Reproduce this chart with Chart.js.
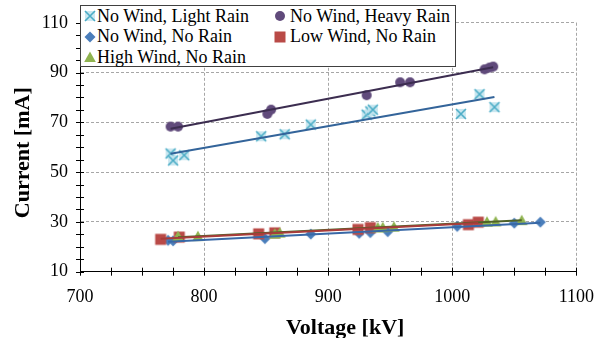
<!DOCTYPE html>
<html>
<head>
<meta charset="utf-8">
<script src="https://cdn.jsdelivr.net/npm/chart.js@4/dist/chart.umd.min.js"></script>
<style>
html,body{margin:0;padding:0;background:#fff;}
#wrap{position:relative;width:609px;height:338px;overflow:hidden;}
#c{position:absolute;left:0;top:0;}
#legend{position:absolute;left:80px;top:5px;width:374px;height:60px;border:1px solid #404040;background:#fff;
  font-family:'Liberation Serif','Times New Roman',serif;font-size:18px;color:#000;}
#legend span{position:absolute;white-space:nowrap;line-height:20px;height:20px;}
#legend canvas{position:absolute;}
</style>
</head>
<body>
<div id="wrap">
  <canvas id="c" width="609" height="338"></canvas>
  <div id="legend"></div>
</div>
<script>
// ---------- data ----------
const seriesLabels = ['No Wind, Light Rain', 'No Wind, Heavy Rain', 'No Wind, No Rain', 'Low Wind, No Rain', 'High Wind, No Rain'];

const lightRainVoltage = [773, 775, 784, 846, 865, 886, 931, 934, 936, 1007, 1022, 1034];
const lightRainCurrent = [57.5, 54.7, 56.8, 64.4, 65.2, 69.1, 73.1, 74.4, 75.1, 73.4, 81.3, 76.1];

const heavyRainVoltage = [773, 779, 851, 854, 931, 958, 966, 1026, 1030, 1033];
const heavyRainCurrent = [68.3, 68.3, 73.4, 75.1, 80.9, 86.1, 86.1, 91.3, 92.0, 92.4];

const noRainVoltage = [771, 775, 849, 886, 925, 934, 948, 1004, 1050, 1071];
const noRainCurrent = [22.6, 22.4, 23.3, 25.1, 25.4, 25.7, 26.1, 28.2, 29.5, 29.9];

const lowWindVoltage = [765, 780, 844, 857, 924, 934, 1013, 1021];
const lowWindCurrent = [23.0, 23.9, 25.2, 25.6, 27.0, 27.7, 28.9, 29.9];

const highWindVoltage = [779, 795, 857, 861, 940, 944, 953, 1028, 1035, 1056];
const highWindCurrent = [24.3, 24.3, 25.3, 25.7, 27.8, 27.9, 28.1, 30.1, 30.2, 30.7];

const xTickValues = [700, 800, 900, 1000, 1100];
const yTickValues = [10, 30, 50, 70, 90, 110];
const xAxisTitle = 'Voltage [kV]';
const yAxisTitle = 'Current [mA]';

// ---------- styling ----------
const FONT = "'Liberation Serif', 'Times New Roman', serif";
const markerKinds = ['x', 'circle', 'diamond', 'square', 'triangle'];
const trendColors = ['#33649a', '#3c2d50', '#3868a6', '#a83c3a', '#4f6228'];

function makeMarker(kind) {
  const c = document.createElement('canvas');
  c.width = 14; c.height = 14;
  const g = c.getContext('2d');
  switch (kind) {
    case 'x':
      g.fillStyle = 'rgba(196,228,238,0.9)';
      g.fillRect(2, 2, 10, 10);
      g.strokeStyle = '#4bacc6'; g.lineWidth = 1.6;
      g.beginPath(); g.moveTo(2, 2); g.lineTo(12, 12); g.moveTo(12, 2); g.lineTo(2, 12); g.stroke();
      break;
    case 'circle':
      g.fillStyle = '#604a7b';
      g.beginPath(); g.arc(7, 7, 5, 0, Math.PI * 2); g.fill();
      break;
    case 'diamond':
      g.fillStyle = '#4a7ebb';
      g.beginPath(); g.moveTo(7, 1.5); g.lineTo(12.5, 7); g.lineTo(7, 12.5); g.lineTo(1.5, 7); g.closePath(); g.fill();
      break;
    case 'square':
      g.fillStyle = '#b94a47';
      g.fillRect(1.5, 1.5, 11, 11);
      break;
    case 'triangle':
      g.fillStyle = '#8fb34f';
      g.beginPath(); g.moveTo(7, 1.5); g.lineTo(12.8, 12); g.lineTo(1.2, 12); g.closePath(); g.fill();
      break;
  }
  return c;
}

const seriesV = [lightRainVoltage, heavyRainVoltage, noRainVoltage, lowWindVoltage, highWindVoltage];
const seriesI = [lightRainCurrent, heavyRainCurrent, noRainCurrent, lowWindCurrent, highWindCurrent];

function linearTrend(xs, ys) {
  const n = xs.length;
  let sx = 0, sy = 0, sxx = 0, sxy = 0;
  for (let i = 0; i < n; i++) { sx += xs[i]; sy += ys[i]; sxx += xs[i] * xs[i]; sxy += xs[i] * ys[i]; }
  const m = (n * sxy - sx * sy) / (n * sxx - sx * sx);
  const b = (sy - m * sx) / n;
  const x0 = Math.min(...xs), x1 = Math.max(...xs);
  return [{x: x0, y: m * x0 + b}, {x: x1, y: m * x1 + b}];
}

const datasets = [];
seriesLabels.forEach((label, k) => {
  datasets.push({
    type: 'scatter',
    label: label,
    markerKind: markerKinds[k],
    data: seriesV[k].map((v, i) => ({x: v, y: seriesI[k][i]})),
    pointStyle: makeMarker(markerKinds[k]),
    pointRadius: 6,
    showLine: false,
    order: 10 - k
  });
});
seriesLabels.forEach((label, k) => {
  datasets.push({
    type: 'line',
    label: 'Linear (' + label + ')',
    data: linearTrend(seriesV[k], seriesI[k]),
    borderColor: trendColors[k],
    borderWidth: 2,
    pointRadius: 0,
    showLine: true,
    fill: false,
    order: 0
  });
});

const decorPlugin = {
  id: 'decor',
  afterDraw(chart) {
    const {ctx, chartArea: a, scales: {x, y}} = chart;
    ctx.save();
    ctx.strokeStyle = '#000';
    ctx.lineWidth = 1;
    ctx.beginPath();
    const xStep = (xTickValues[1] - xTickValues[0]) / 4;
    for (let v = xTickValues[0]; v <= xTickValues[xTickValues.length - 1] + 1e-6; v += xStep) {
      const px = Math.round(x.getPixelForValue(v)) + 0.5;
      ctx.moveTo(px, a.bottom - 4); ctx.lineTo(px, a.bottom + 4);
    }
    const yStep = (yTickValues[1] - yTickValues[0]) / 4;
    for (let v = yTickValues[0]; v <= yTickValues[yTickValues.length - 1] + 1e-6; v += yStep) {
      const py = Math.round(y.getPixelForValue(v)) + 0.5;
      ctx.moveTo(a.left - 4, py); ctx.lineTo(a.left + 4, py);
    }
    ctx.stroke();
    ctx.fillStyle = '#000';
    ctx.font = 'bold 22px ' + FONT;
    ctx.textAlign = 'center';
    ctx.textBaseline = 'alphabetic';
    ctx.fillText(xAxisTitle, (a.left + a.right) / 2 + 17, 334);
    ctx.translate(28.5, (a.top + a.bottom) / 2 + 5.5);
    ctx.rotate(-Math.PI / 2);
    ctx.fillText(yAxisTitle, 0, 0);
    ctx.restore();
  }
};

const gridColor = '#a6a6a6';
const chart = new Chart(document.getElementById('c'), {
  type: 'scatter',
  data: {datasets: datasets},
  options: {
    responsive: false,
    animation: false,
    events: [],
    layout: {padding: {top: 15.5, right: 26.3, left: 0, bottom: 0}},
    plugins: {legend: {display: false}, tooltip: {enabled: false}, title: {display: false}},
    scales: {
      x: {
        type: 'linear',
        min: xTickValues[0],
        max: xTickValues[xTickValues.length - 1],
        afterBuildTicks: (s) => { s.ticks = xTickValues.map(v => ({value: v})); },
        ticks: {color: '#000', padding: 15, font: {family: FONT, size: 18}, maxRotation: 0,
                callback: (v) => String(v)},
        grid: {color: gridColor, lineWidth: 1, drawTicks: false},
        border: {display: true, color: '#000', width: 1, dash: [3, 2]},
        afterFit: (s) => { s.height = 66.3; }
      },
      y: {
        type: 'linear',
        min: yTickValues[0],
        max: yTickValues[yTickValues.length - 1],
        afterBuildTicks: (s) => { s.ticks = yTickValues.map(v => ({value: v})); },
        ticks: {color: '#000', padding: 12, font: {family: FONT, size: 18},
                callback: (v) => String(v)},
        grid: {color: gridColor, lineWidth: 1, drawTicks: false},
        border: {display: true, color: '#000', width: 1, dash: [3, 2]},
        afterFit: (s) => { s.width = 80; }
      }
    }
  },
  plugins: [decorPlugin]
});

// ---------- HTML legend built from the chart's datasets ----------
const legendEl = document.getElementById('legend');
const colMarkerX = [89.5, 280];
const colTextX = [97, 290];
const rowMarkerY = [15.7, 36.5, 57.3];
const rowTextTop = [5.6, 26.4, 47.2];
const ox = 81, oy = 6;
chart.data.datasets.filter(d => d.markerKind).forEach((d, i) => {
  const col = i % 2, row = Math.floor(i / 2);
  const mk = makeMarker(d.markerKind);
  mk.style.left = (colMarkerX[col] - 7 - ox) + 'px';
  mk.style.top = (rowMarkerY[row] - 7 - oy) + 'px';
  legendEl.appendChild(mk);
  const sp = document.createElement('span');
  sp.textContent = d.label;
  sp.style.left = (colTextX[col] - ox) + 'px';
  sp.style.top = (rowTextTop[row] - oy) + 'px';
  legendEl.appendChild(sp);
});
</script>
</body>
</html>
